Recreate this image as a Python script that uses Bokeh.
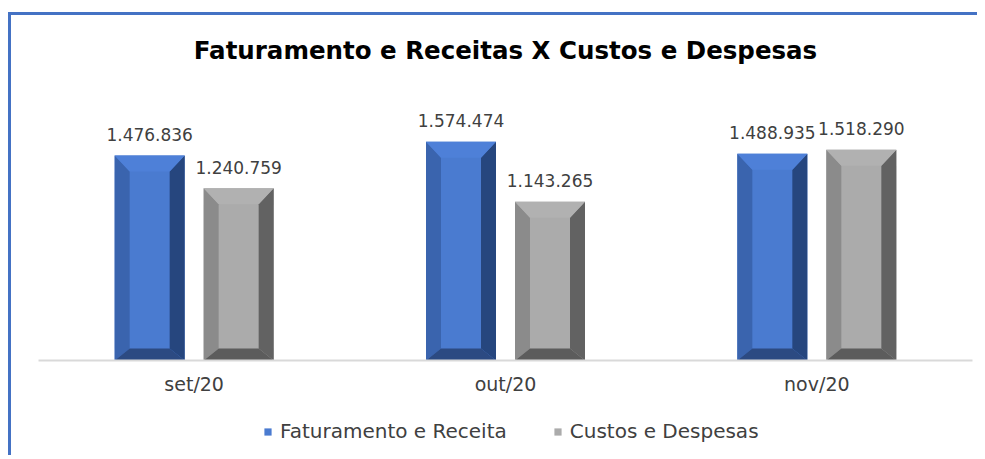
from bokeh.plotting import figure
from bokeh.models import Range1d, FixedTicker, Legend, LegendItem
from bokeh.core.properties import value
from bokeh.embed import file_html
from bokeh.resources import INLINE

# ---- data ----
months = ["set/20", "out/20", "nov/20"]
faturamento = [1476836, 1574474, 1488935]
custos = [1240759, 1143265, 1518290]
series_names = ["Faturamento e Receita", "Custos e Despesas"]
title_text = "Faturamento e Receitas X Custos e Despesas"

# ---- styles / layout (pixels on the canvas) ----
FONT = "DejaVu Sans"
TXT = "#404040"
BLUE = dict(front="#4a7bd0", top="#4e80d8", left="#3a64ae", right="#26467e", bottom="#2c4a82")
GRAY = dict(front="#ababab", top="#b1b1b1", left="#8b8b8b", right="#626262", bottom="#5c5c5c")

W, H = 969, 443
CAT_L, CAT_R = 27, 961      # canvas px of category area edges
AXIS_PX, TOP_PX = 345, 95   # canvas px of value 0 and of YMAX
TITLE_PX = 35
YMAX = 1800000
n = len(months)
px_x = n / (CAT_R - CAT_L)
px_y = YMAX / (AXIS_PX - TOP_PX)
x_start = -0.5 - CAT_L * px_x
x_end = n - 0.5 + (W - CAT_R) * px_x
y_start = -(H - AXIS_PX) * px_y
y_end = YMAX + TOP_PX * px_y

BAR_W = 70 * px_x
OFFSET = 44.5 * px_x
SIDE, TOPB, BOTB = 15 * px_x, 16 * px_y, 12 * px_y

p = figure(width=W, height=H, output_backend="svg", toolbar_location=None,
           x_range=Range1d(x_start, x_end), y_range=Range1d(y_start, y_end),
           y_axis_location=None, min_border=0)
p.styles = {"border-top": "3px solid #4472c4", "border-left": "3px solid #4472c4",
            "margin-top": "12px", "margin-left": "8px"}
p.outline_line_color = None
p.xgrid.visible = False
p.ygrid.visible = False
p.background_fill_color = "white"
p.border_fill_color = "white"

ax = p.xaxis[0]
ax.fixed_location = 0
ax.bounds = (-0.5, n - 0.5)
ax.ticker = FixedTicker(ticks=list(range(n)))
ax.major_label_overrides = {i: m for i, m in enumerate(months)}
ax.axis_line_color = "#d9d9d9"
ax.axis_line_width = 2
ax.major_tick_line_color = None
ax.minor_tick_line_color = None
ax.major_tick_out = 0
ax.major_tick_in = 0
ax.major_label_standoff = 12
ax.major_label_text_font = FONT
ax.major_label_text_font_size = "19px"
ax.major_label_text_color = TXT

# title
p.text(x=[(n - 1) / 2], y=[YMAX + (TOP_PX - TITLE_PX) * px_y], text=[title_text],
       text_align="center", text_baseline="middle", text_font=value(FONT),
       text_font_size="24.5px", text_font_style="bold", text_color="#000000")

legend_items = []
for s, (vals, col, name) in enumerate(zip([faturamento, custos], [BLUE, GRAY], series_names)):
    sign = -1 if s == 0 else 1
    xc = [i + sign * OFFSET for i in range(n)]
    front = p.vbar(x=xc, top=vals, bottom=0, width=BAR_W, fill_color=col["front"], line_color=None)
    faces = {"left": ([], []), "right": ([], []), "top": ([], []), "bottom": ([], [])}
    for x, v in zip(xc, vals):
        x0, x1 = x - BAR_W / 2, x + BAR_W / 2
        y0, y1 = 0, v
        xi0, xi1 = x0 + SIDE, x1 - SIDE
        yi0, yi1 = y0 + BOTB, y1 - TOPB
        faces["left"][0].append([x0, xi0, xi0, x0]); faces["left"][1].append([y0, yi0, yi1, y1])
        faces["right"][0].append([x1, x1, xi1, xi1]); faces["right"][1].append([y0, y1, yi1, yi0])
        faces["top"][0].append([x0, x1, xi1, xi0]); faces["top"][1].append([y1, y1, yi1, yi1])
        faces["bottom"][0].append([x0, xi0, xi1, x1]); faces["bottom"][1].append([y0, yi0, yi0, y0])
    for k in ["left", "right", "top", "bottom"]:
        p.patches(xs=faces[k][0], ys=faces[k][1], fill_color=col[k], line_color=None)
    labels = [f"{v:,}".replace(",", ".") for v in vals]
    p.text(x=xc, y=vals, text=labels, text_align="center", text_baseline="alphabetic",
           y_offset=-21, text_font=value(FONT), text_font_size="17px", text_color=TXT)
    legend_items.append(LegendItem(label=name, renderers=[front]))

legend = Legend(items=legend_items, orientation="horizontal", location=(252, 15),
                glyph_width=9, glyph_height=9, label_standoff=8, spacing=46,
                padding=0, margin=0, border_line_color=None, background_fill_alpha=0,
                label_text_font=FONT, label_text_font_size="20px", label_text_color=TXT)
p.add_layout(legend, "center")

open("out.html", "w").write(file_html(p, INLINE))
